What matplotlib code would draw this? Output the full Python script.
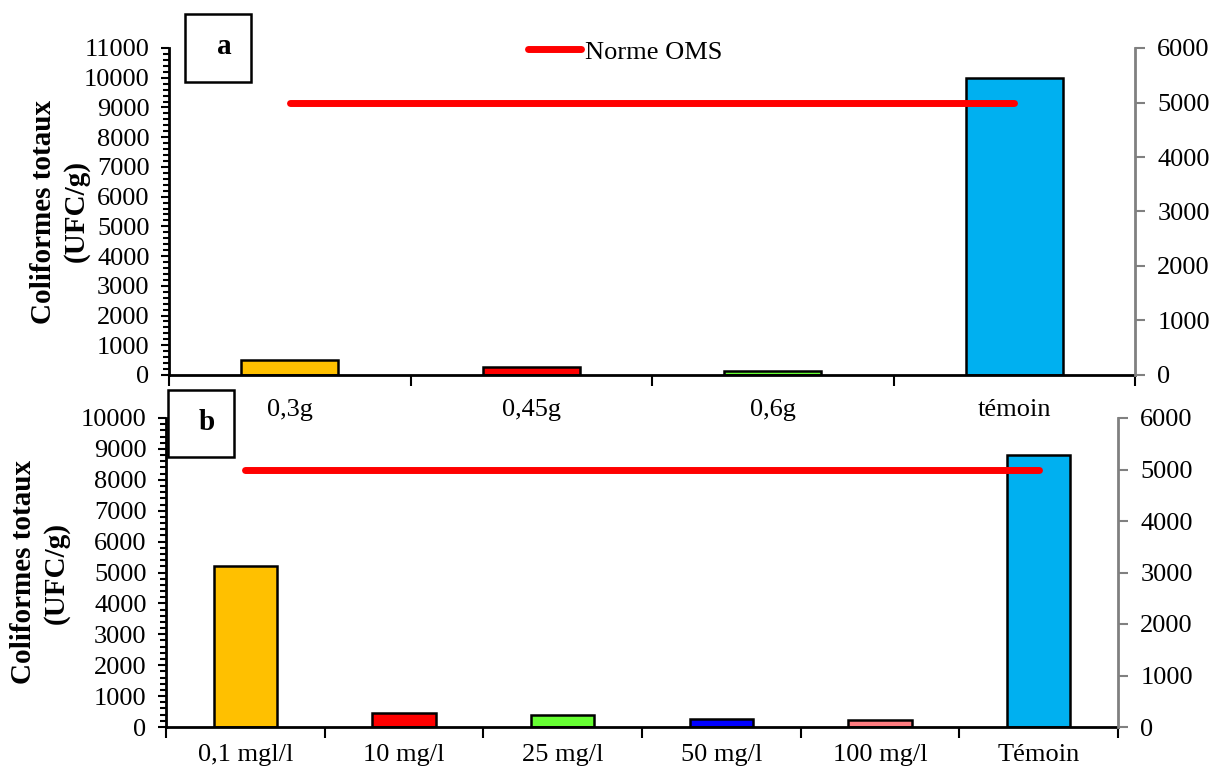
import numpy as np
import matplotlib.pyplot as plt
from matplotlib.ticker import MultipleLocator

plt.rcParams["font.family"] = ["Liberation Serif", "DejaVu Serif"]

# (a) doses en g
cats_a = ["0,3g", "0,45g", "0,6g", "témoin"]
vals_a = [520, 260, 120, 10000]
cols_a = ["#FFC000", "#FF0000", "#66FF33", "#00B0F0"]

# (b) concentrations
cats_b = ["0,1 mgl/l", "10 mg/l", "25 mg/l", "50 mg/l", "100 mg/l", "Témoin"]
vals_b = [5200, 440, 400, 250, 220, 8800]
cols_b = ["#FFC000", "#FF0000", "#66FF33", "#0000FF", "#FF7C80", "#00B0F0"]

norme_oms = 5000

W, H = 1224, 772
fig = plt.figure(figsize=(W / 100, H / 100), dpi=100)
ax_a = fig.add_axes([169 / W, 1 - 375 / H, 966 / W, 327 / H])
ax_b = fig.add_axes([166 / W, 1 - 727 / H, 952 / W, 309 / H])
ax_b.set_facecolor("none")

FS = 19


def panel(ax, cats, vals, cols, ymax, xpad, ylab_x):
    x = np.arange(len(cats))
    ax.bar(x, vals, width=0.4, color=cols, edgecolor="black", linewidth=1.8, zorder=2)
    ax.set_xlim(-0.5, len(cats) - 0.5)
    ax.set_ylim(0, ymax)
    ax.yaxis.set_major_locator(MultipleLocator(1000))
    ax.yaxis.set_minor_locator(MultipleLocator(200))
    ax.tick_params(axis="y", which="major", direction="out", length=6, width=1.5,
                   labelsize=FS, pad=8)
    ax.tick_params(axis="y", which="minor", direction="out", length=4, width=1.5)
    # ticks on the category boundaries, names at the centres
    ax.set_xticks(np.arange(len(cats) + 1) - 0.5)
    ax.set_xticklabels([])
    ax.set_xticks(x, minor=True)
    ax.set_xticklabels(cats, minor=True, fontsize=FS)
    ax.tick_params(axis="x", which="major", direction="out", length=8, width=1.5)
    ax.tick_params(axis="x", which="minor", length=0, pad=xpad)
    for s in ["top", "right"]:
        ax.spines[s].set_visible(False)
    for s in ["left", "bottom"]:
        ax.spines[s].set_linewidth(2)
    ax.set_ylabel("Coliformes totaux\n(UFC/g)", fontsize=21, fontweight="bold",
                  linespacing=1.25)
    ax.yaxis.set_label_coords(ylab_x, 0.5)

    # WHO limit on the secondary axis
    ax2 = ax.twinx()
    ax2.set_ylim(0, 6000)
    ax2.yaxis.set_major_locator(MultipleLocator(1000))
    ln, = ax2.plot([x[0], x[-1]], [norme_oms] * 2, color="#FF0000", lw=5,
                   solid_capstyle="round", label="Norme OMS", zorder=3)
    for s in ["top", "left", "bottom"]:
        ax2.spines[s].set_visible(False)
    ax2.spines["right"].set_color("#808080")
    ax2.spines["right"].set_linewidth(2)
    ax2.tick_params(axis="y", direction="out", length=7, width=1.5, color="#808080",
                    labelsize=FS, pad=9)
    return ln


ln = panel(ax_a, cats_a, vals_a, cols_a, 11000, 17, (90 - 169) / 966)
panel(ax_b, cats_b, vals_b, cols_b, 10000, 12.5, (70 - 166) / 952)

fig.legend(handles=[ln], loc="center left", bbox_to_anchor=(528 / W, 1 - 52 / H),
           frameon=False, fontsize=FS, handlelength=2.0, handletextpad=0.15,
           borderpad=0, borderaxespad=0)

# panel letters in square boxes
for letter, (lx, ly, w, h), (tx, ty) in [("a", (185, 14, 66, 68), (224, 47)),
                                         ("b", (168, 390, 66, 67), (207, 422))]:
    fig.patches.append(plt.Rectangle((lx / W, 1 - (ly + h) / H), w / W, h / H,
                                     transform=fig.transFigure, fc="white", ec="black",
                                     lw=1.8, zorder=5))
    fig.text(tx / W, 1 - ty / H, letter, fontsize=21, fontweight="bold",
             ha="center", va="center", zorder=6)

fig.savefig("out.png", dpi=100)
